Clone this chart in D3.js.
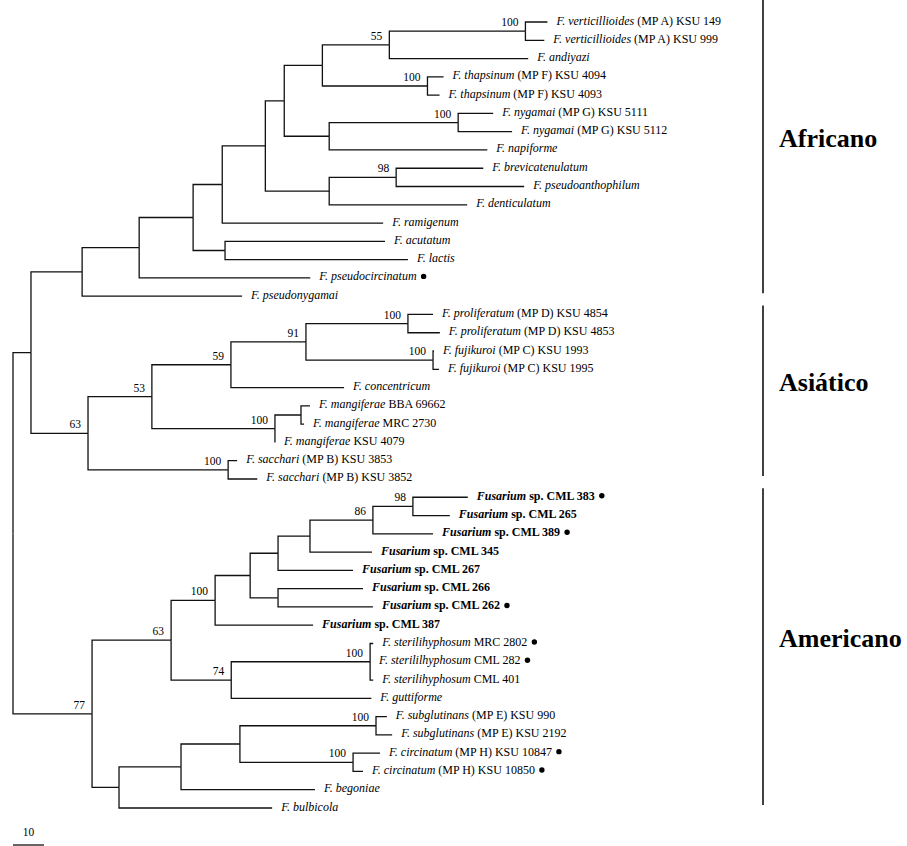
<!DOCTYPE html>
<html>
<head>
<meta charset="utf-8">
<script src="https://cdn.jsdelivr.net/npm/d3@7"></script>
<style>
  body { margin: 0; background: #fff; }
  svg { display: block; }
  text { font-family: "Liberation Serif", "Times New Roman", serif; fill: #000; }
</style>
</head>
<body>
<div id="chart"></div>
<script>
// internal nodes: [id, parent, branch length, bootstrap]
const clades = [
  ['ROOT', null, 0, null],
  ['A', 'ROOT', 5.8, null],
  ['AFR', 'A', 16.5, null],
  ['N139', 'AFR', 18.4, null],
  ['N193', 'N139', 17.4, null],
  ['N222', 'N193', 9.4, null],
  ['N265', 'N222', 13.9, null],
  ['N284', 'N265', 6.1, null],
  ['N322', 'N284', 12.3, null],
  ['N55', 'N322', 21.6, 55],
  ['VE', 'N55', 43.9, 100],
  ['TH', 'N322', 33.9, 100],
  ['N329n', 'N284', 14.5, null],
  ['NY', 'N329n', 41.6, 100],
  ['N329b', 'N265', 20.6, null],
  ['N98b', 'N329b', 21.6, 98],
  ['N225', 'N193', 10.3, null],
  ['ASIA', 'A', 18.4, 63],
  ['N53', 'ASIA', 20.6, 53],
  ['N59', 'N53', 25.5, 59],
  ['N91', 'N59', 24.2, 91],
  ['PR', 'N91', 32.9, 100],
  ['FU', 'N91', 41.0, 100],
  ['MG', 'N53', 39.7, 100],
  ['MS', 'MG', 8.4, null],
  ['SA', 'ASIA', 45.2, 100],
  ['AMER', 'ROOT', 25.5, 77],
  ['N63', 'AMER', 25.5, 63],
  ['N100', 'N63', 14.2, 100],
  ['N250', 'N100', 11.3, null],
  ['N278a', 'N250', 9.0, null],
  ['N310', 'N278a', 10.3, null],
  ['N86', 'N310', 20.3, 86],
  ['N98a', 'N86', 12.9, 98],
  ['N278b', 'N250', 9.0, null],
  ['N74', 'N63', 19.4, 74],
  ['ST', 'N74', 44.8, 100],
  ['N119', 'AMER', 8.7, null],
  ['N181', 'N119', 20.0, null],
  ['N240', 'N181', 19.0, null],
  ['SG', 'N240', 43.9, 100],
  ['CI', 'N240', 36.5, 100]
];

// terminal taxa, top to bottom: [id, parent, branch length, italic part, rest, bold, marked]
const taxa = [
  ['t1', 'VE', 7.1, 'F. verticillioides', ' (MP A) KSU 149', false, false],
  ['t2', 'VE', 6.1, 'F. verticillioides', ' (MP A) KSU 999', false, false],
  ['t3', 'N55', 44.8, 'F. andiyazi', '', false, false],
  ['t4', 'TH', 5.2, 'F. thapsinum', ' (MP F) KSU 4094', false, false],
  ['t5', 'TH', 3.9, 'F. thapsinum', ' (MP F) KSU 4093', false, false],
  ['t6', 'NY', 11.3, 'F. nygamai', ' (MP G) KSU 5111', false, false],
  ['t7', 'NY', 17.4, 'F. nygamai', ' (MP G) KSU 5112', false, false],
  ['t8', 'N329n', 51.0, 'F. napiforme', '', false, false],
  ['t9', 'N98b', 28.1, 'F. brevicatenulatum', '', false, false],
  ['t10', 'N98b', 41.3, 'F. pseudoanthophilum', '', false, false],
  ['t11', 'N329b', 44.5, 'F. denticulatum', '', false, false],
  ['t12', 'N222', 51.9, 'F. ramigenum', '', false, false],
  ['t13', 'N225', 51.6, 'F. acutatum', '', false, false],
  ['t14', 'N225', 59.0, 'F. lactis', '', false, false],
  ['t15', 'N139', 55.2, 'F. pseudocircinatum', '', false, true],
  ['t16', 'AFR', 51.6, 'F. pseudonygamai', '', false, false],
  ['t17', 'PR', 8.1, 'F. proliferatum', ' (MP D) KSU 4854', false, false],
  ['t18', 'PR', 10.3, 'F. proliferatum', ' (MP D) KSU 4853', false, false],
  ['t19', 'FU', 0.3, 'F. fujikuroi', ' (MP C) KSU 1993', false, false],
  ['t20', 'FU', 1.9, 'F. fujikuroi', ' (MP C) KSU 1995', false, false],
  ['t21', 'N59', 36.5, 'F. concentricum', '', false, false],
  ['t22', 'MS', 2.9, 'F. mangiferae', ' BBA 69662', false, false],
  ['t23', 'MS', 1.0, 'F. mangiferae', ' MRC 2730', false, false],
  ['t24', 'MG', 0, 'F. mangiferae', ' KSU 4079', false, false],
  ['t25', 'SA', 2.9, 'F. sacchari', ' (MP B) KSU 3853', false, false],
  ['t26', 'SA', 9.4, 'F. sacchari', ' (MP B) KSU 3852', false, false],
  ['t27', 'N98a', 17.7, 'Fusarium', ' sp. CML 383', true, true],
  ['t28', 'N98a', 11.9, 'Fusarium', ' sp. CML 265', true, false],
  ['t29', 'N86', 19.4, 'Fusarium', ' sp. CML 389', true, true],
  ['t30', 'N310', 20.0, 'Fusarium', ' sp. CML 345', true, false],
  ['t31', 'N278a', 24.2, 'Fusarium', ' sp. CML 267', true, false],
  ['t32', 'N278b', 27.4, 'Fusarium', ' sp. CML 266', true, false],
  ['t33', 'N278b', 30.6, 'Fusarium', ' sp. CML 262', true, true],
  ['t34', 'N100', 31.6, 'Fusarium', ' sp. CML 387', true, false],
  ['t35', 'ST', 1.0, 'F. sterilihyphosum', ' MRC 2802', false, true],
  ['t36', 'ST', 0, 'F. sterililhyphosum', ' CML 282', false, true],
  ['t37', 'ST', 1.0, 'F. sterilihyphosum', ' CML 401', false, false],
  ['t38', 'N74', 45.2, 'F. guttiforme', '', false, false],
  ['t39', 'SG', 3.5, 'F. subglutinans', ' (MP E) KSU 990', false, false],
  ['t40', 'SG', 5.2, 'F. subglutinans', ' (MP E) KSU 2192', false, false],
  ['t41', 'CI', 8.7, 'F. circinatum', ' (MP H) KSU 10847', false, true],
  ['t42', 'CI', 3.2, 'F. circinatum', ' (MP H) KSU 10850', false, true],
  ['t43', 'N181', 43.2, 'F. begoniae', '', false, false],
  ['t44', 'N119', 49.4, 'F. bulbicola', '', false, false]
];

// [label, first taxon, last taxon] (1-based, top to bottom)
const regions = [
  ['Africano', 1, 16],
  ['Asiático', 17, 26],
  ['Americano', 27, 44]
];

const scaleBarLength = 10;

const width = 907;
const height = 846;

const svg = d3.select('#chart')
  .append('svg')
  .attr('width', width)
  .attr('height', height)
  .style('background-color', '#fff');

const rows = clades.map(([id, parent, len, boot]) => ({ id, parent, len, boot }))
  .concat(taxa.map(([id, parent, len, name, rest, bold, marked]) =>
    ({ id, parent, len, name, rest, bold, marked })));

const root = d3.stratify()
  .id(d => d.id)
  .parentId(d => d.parent)(rows);

// branch length units -> px (10 units = 31 px)
const x = d3.scaleLinear().domain([0, 100]).range([13, 323]);
const leaves = root.leaves();
const y = d3.scaleLinear().domain([0, leaves.length - 1]).range([22, 808]);

root.eachBefore(d => {
  d.dist = d.parent ? d.parent.dist + d.data.len : 0;
  d.px = x(d.dist);
});
leaves.forEach((d, i) => { d.py = y(i); });
root.eachAfter(d => {
  if (d.children) d.py = (d.children[0].py + d.children[d.children.length - 1].py) / 2;
});

// Elbow branches
svg.append('g')
  .attr('fill', 'none')
  .attr('stroke', '#111')
  .attr('stroke-width', 1.3)
  .selectAll('path')
  .data(root.descendants().slice(1))
  .join('path')
  .attr('d', d => `M${d.parent.px},${d.parent.py}V${d.py}H${d.px}`);

// Bootstrap values
svg.append('g')
  .selectAll('text')
  .data(root.descendants().filter(d => d.data.boot != null))
  .join('text')
  .attr('x', d => d.px - 7)
  .attr('y', d => d.py - 5)
  .attr('text-anchor', 'end')
  .attr('font-size', '11.5px')
  .text(d => d.data.boot);

// Taxon labels
const labels = svg.append('g')
  .selectAll('text')
  .data(leaves)
  .join('text')
  .attr('x', d => d.px + 9)
  .attr('y', d => d.py + 2.5)
  .attr('font-size', '12px')
  .attr('font-weight', d => d.data.bold ? 'bold' : 'normal');

labels.append('tspan')
  .attr('font-style', 'italic')
  .text(d => d.data.name);

labels.append('tspan')
  .text(d => d.data.rest);

labels.each(function(d) {
  if (!d.data.marked) return;
  const end = d.px + 9 + this.getComputedTextLength();
  svg.append('circle')
    .attr('cx', end + 7)
    .attr('cy', d.py - 1.5)
    .attr('r', 2.7)
    .attr('fill', '#000');
});

// Geographic groups
const barX = 763;
const regionG = svg.append('g');
regions.forEach(([name, first, last], i) => {
  const top = i === 0 ? 0 : y(first - 1) - 9;
  const bottom = y(last - 1) - 3;
  regionG.append('line')
    .attr('x1', barX)
    .attr('x2', barX)
    .attr('y1', top)
    .attr('y2', bottom)
    .attr('stroke', '#111')
    .attr('stroke-width', 1.6);
  regionG.append('text')
    .attr('x', barX + 16)
    .attr('y', (top + bottom) / 2)
    .attr('font-size', '26px')
    .attr('font-weight', 'bold')
    .text(name);
});

// Scale bar
const sb = svg.append('g');
sb.append('line')
  .attr('x1', x(0))
  .attr('x2', x(scaleBarLength))
  .attr('y1', 845)
  .attr('y2', 845)
  .attr('stroke', '#111')
  .attr('stroke-width', 1.3);
sb.append('text')
  .attr('x', (x(0) + x(scaleBarLength)) / 2)
  .attr('y', 836)
  .attr('text-anchor', 'middle')
  .attr('font-size', '11.5px')
  .text(scaleBarLength);
</script>
</body>
</html>
